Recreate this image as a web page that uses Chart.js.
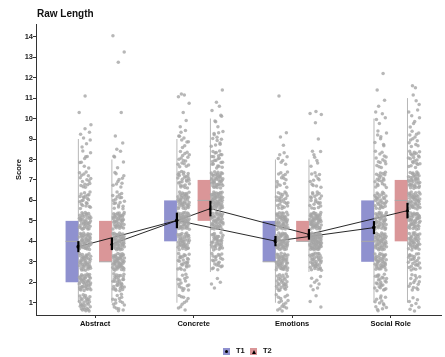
<!DOCTYPE html>
<html>
<head>
<meta charset="utf-8">
<script src="https://cdn.jsdelivr.net/npm/chart.js@4.4.0/dist/chart.umd.min.js"></script>
<style>
  html, body { margin: 0; padding: 0; background: #fff; }
  #wrap { position: relative; width: 445px; height: 357px; }
  #title { position: absolute; left: 37px; top: 8px; font: bold 10px "Liberation Sans", Arial, sans-serif; color: #111; }
  .key { position: absolute; top: 348px; width: 7px; height: 7px; }
  .lab { position: absolute; top: 346px; font: bold 7.5px "Liberation Sans", Arial, sans-serif; color: #111; }
  .dot { position: absolute; left: 2px; top: 2px; width: 3px; height: 3px; border-radius: 50%; background: #000; }
  .tri { position: absolute; left: 1.5px; top: 1.5px; width: 0; height: 0; border-left: 2px solid transparent; border-right: 2px solid transparent; border-bottom: 4px solid #000; }
</style>
</head>
<body>
<div id="wrap">
  <canvas id="chart" width="445" height="357"></canvas>
  <div id="title">Raw Length</div>
  <span class="key" style="left:223px;background:rgb(143,145,207)"><i class="dot"></i></span>
  <span class="lab" style="left:236px">T1</span>
  <span class="key" style="left:250px;background:rgb(218,150,152)"><i class="tri"></i></span>
  <span class="lab" style="left:263px">T2</span>
</div>
<script>
const categories = ["Abstract", "Concrete", "Emotions", "Social Role"];
const yTicks = [1, 2, 3, 4, 5, 6, 7, 8, 9, 10, 11, 12, 13, 14];

// means and error bar half-widths
const t1Means = [3.74, 5.02, 4.01, 4.67];
const t2Means = [3.87, 5.6, 4.34, 5.5];
const t1Err = [0.27, 0.38, 0.25, 0.32];
const t2Err = [0.3, 0.38, 0.26, 0.38];

// boxplot stats: [low whisker, q1, median, q3, high whisker]
const t1Box = [[1, 2, 4, 5, 9], [1, 4, 5, 6, 9], [1, 3, 3, 5, 8], [1, 3, 4, 6, 10]];
const t2Box = [[1, 3, 3, 5, 8], [2.5, 5, 6, 7, 10], [2.5, 4, 4, 5, 8], [1, 4, 6, 7, 11]];

// how many raw scores sit at each level (index 0 = score 1)
const t1Counts = [
  [30, 42, 42, 45, 40, 22, 16, 9, 6],
  [10, 16, 26, 40, 50, 40, 26, 16, 10],
  [16, 28, 45, 50, 45, 25, 14, 7],
  [14, 25, 38, 45, 38, 30, 20, 14, 8, 5]
];
const t2Counts = [
  [16, 32, 50, 50, 40, 18, 10, 5],
  [0, 4, 22, 35, 45, 50, 40, 22, 12, 6],
  [3, 8, 38, 65, 50, 22, 12, 6],
  [8, 15, 25, 38, 40, 42, 35, 22, 12, 7, 3]
];
// stray scores outside the dense bands
const t1Extras = [
  [9.5, 9.7, 10.3, 11.1],
  [9.6, 9.9, 10.3, 10.75, 11.07, 11.15, 11.2],
  [8.7, 9.1, 9.3, 11.1],
  [10.6, 10.9, 11.4, 12.2]
];
const t2Extras = [
  [8.5, 8.8, 9.15, 10.3, 12.75, 13.25, 14.05],
  [10.6, 10.8, 11.4],
  [8.4, 9.0, 9.8, 10.2, 10.25, 10.35],
  [11.5, 11.6]
];

const T1_OFF = -0.17, T2_OFF = 0.17, BOX_W = 0.13;
const t1Fill = "rgb(143,145,207)", t2Fill = "rgb(218,150,152)";

// deterministic jitter (halton sequence)
function halton(i, b) {
  let f = 1, r = 0;
  while (i > 0) { f /= b; r += f * (i % b); i = Math.floor(i / b); }
  return r;
}

function cloud(countsList, extrasList, off, start) {
  const pts = [];
  let k = start;
  countsList.forEach((counts, c) => {
    const x0 = c + off;
    counts.forEach((n, li) => {
      for (let j = 0; j < n; j++, k++) {
        pts.push({ x: x0 + 0.008 + halton(k, 2) * 0.12, y: li + 1 + (halton(k, 3) - 0.5) * 0.84 });
      }
    });
    extrasList[c].forEach(v => {
      k++;
      pts.push({ x: x0 + 0.008 + halton(k, 2) * 0.12, y: v });
    });
  });
  return pts;
}

const boxPlugin = {
  id: "boxes",
  beforeDatasetsDraw(chart) {
    const { ctx, scales: { x, y } } = chart;
    ctx.save();
    [[t1Box, T1_OFF, t1Fill], [t2Box, T2_OFF, t2Fill]].forEach(([boxes, off, fill]) => {
      boxes.forEach((b, c) => {
        const xr = x.getPixelForValue(c + off);
        const xl = x.getPixelForValue(c + off - BOX_W);
        // whisker
        ctx.strokeStyle = "#b8b8b8";
        ctx.lineWidth = 1;
        ctx.beginPath();
        ctx.moveTo(xr, y.getPixelForValue(b[0]));
        ctx.lineTo(xr, y.getPixelForValue(b[4]));
        ctx.stroke();
        // box
        const top = y.getPixelForValue(b[3]), bot = y.getPixelForValue(b[1]);
        ctx.fillStyle = fill;
        ctx.fillRect(xl, top, xr - xl, bot - top);
        ctx.strokeStyle = "#a9a9a9";
        ctx.beginPath();
        const ym = y.getPixelForValue(b[2]);
        ctx.moveTo(xl, ym);
        ctx.lineTo(xr, ym);
        ctx.stroke();
      });
    });
    ctx.restore();
  }
};

const errPlugin = {
  id: "errbars",
  afterDatasetsDraw(chart) {
    const { ctx, scales: { x, y } } = chart;
    ctx.save();
    ctx.strokeStyle = "#000";
    ctx.lineWidth = 2.2;
    [[t1Means, t1Err, T1_OFF], [t2Means, t2Err, T2_OFF]].forEach(([means, errs, off]) => {
      means.forEach((m, c) => {
        const px = x.getPixelForValue(c + off);
        ctx.beginPath();
        ctx.moveTo(px, y.getPixelForValue(m - errs[c]));
        ctx.lineTo(px, y.getPixelForValue(m + errs[c]));
        ctx.stroke();
      });
    });
    ctx.restore();
  }
};

const font = { family: "'Liberation Sans', Arial, sans-serif", weight: "bold", size: 7.5 };

new Chart(document.getElementById("chart"), {
  type: "scatter",
  data: {
    datasets: [
      {
        label: "T1 raw",
        data: cloud(t1Counts, t1Extras, T1_OFF, 1),
        backgroundColor: "rgba(165,165,165,0.8)",
        borderWidth: 0,
        pointRadius: 1.75
      },
      {
        label: "T2 raw",
        data: cloud(t2Counts, t2Extras, T2_OFF, 700),
        backgroundColor: "rgba(165,165,165,0.8)",
        borderWidth: 0,
        pointRadius: 1.75
      },
      {
        type: "line",
        label: "T1",
        data: t1Means.map((m, c) => ({ x: c + T1_OFF, y: m })),
        borderColor: "#111",
        borderWidth: 0.9,
        pointStyle: "circle",
        pointRadius: 2,
        pointBackgroundColor: "#000",
        pointBorderWidth: 0
      },
      {
        type: "line",
        label: "T2",
        data: t2Means.map((m, c) => ({ x: c + T2_OFF, y: m })),
        borderColor: "#111",
        borderWidth: 0.9,
        pointStyle: "triangle",
        pointRadius: 2.4,
        pointBackgroundColor: "#000",
        pointBorderWidth: 0
      }
    ]
  },
  options: {
    responsive: false,
    animation: false,
    devicePixelRatio: 1,
    layout: { padding: { top: 24, left: 0, right: 0, bottom: 0 } },
    plugins: { legend: { display: false }, tooltip: { enabled: false } },
    scales: {
      x: {
        type: "linear",
        min: -0.6,
        max: 3.51,
        afterBuildTicks: s => { s.ticks = [0, 1, 2, 3].map(v => ({ value: v })); },
        afterFit: s => { s.height = 42; },
        grid: { drawOnChartArea: false, tickLength: 3, color: "#333" },
        border: { color: "#333", width: 1 },
        ticks: {
          font: font,
          color: "#111",
          padding: 1,
          maxRotation: 0,
          callback: v => categories[Math.round(v)]
        }
      },
      y: {
        min: 0.4,
        max: 14.62,
        afterBuildTicks: s => { s.ticks = yTicks.map(v => ({ value: v })); },
        afterFit: s => { s.width = 36; },
        grid: { drawOnChartArea: false, tickLength: 3, color: "#333" },
        border: { color: "#333", width: 1 },
        ticks: { font: font, color: "#222", padding: 0 },
        title: { display: true, text: "Score", font: font, color: "#111", padding: { top: 14.5, bottom: 0 } }
      }
    }
  },
  plugins: [boxPlugin, errPlugin]
});
</script>
</body>
</html>
